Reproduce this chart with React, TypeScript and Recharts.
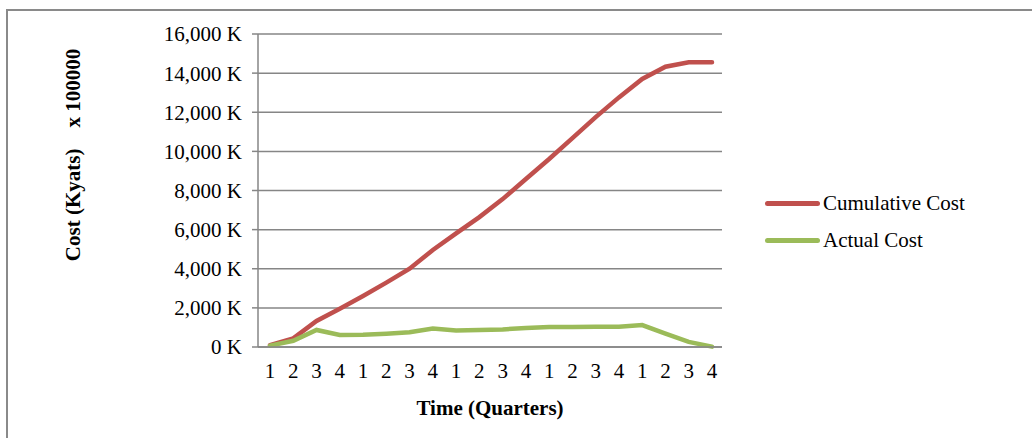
import React from 'react'
import {
  LineChart,
  Line,
  XAxis,
  YAxis,
  CartesianGrid,
  Legend,
} from 'recharts'

// quarter labels, five years of four quarters
const quarters = [
  '1', '2', '3', '4',
  '1', '2', '3', '4',
  '1', '2', '3', '4',
  '1', '2', '3', '4',
  '1', '2', '3', '4',
]

// values in K (x 100000 kyats)
const cumulativeCost = [
  100, 440, 1330, 1960, 2610, 3290, 4000, 4960, 5810, 6640,
  7560, 8590, 9610, 10680, 11750, 12760, 13700, 14330, 14550, 14550,
]

const actualCost = [
  70, 320, 870, 610, 630, 680, 750, 950, 840, 870,
  900, 970, 1020, 1020, 1040, 1040, 1120, 680, 260, 20,
]

const yTicks = [0, 2000, 4000, 6000, 8000, 10000, 12000, 14000, 16000]

const seriesInfo = [
  { key: 'cumulative', name: 'Cumulative Cost', color: '#C0504D' },
  { key: 'actual', name: 'Actual Cost', color: '#9BBB59' },
]

const data = quarters.map((q, i) => ({
  quarter: q,
  cumulative: cumulativeCost[i],
  actual: actualCost[i],
}))

const font = '"Liberation Serif", "Times New Roman", serif'
const gridColor = '#868686'

const formatK = (v: number) => `${v.toLocaleString('en-US')} K`

function LegendBox() {
  return (
    <div style={{ fontFamily: font, fontSize: 21, color: '#000' }}>
      {seriesInfo.map((s) => (
        <div
          key={s.key}
          style={{ display: 'flex', alignItems: 'center', height: 37 }}
        >
          <span
            style={{
              display: 'inline-block',
              width: 55,
              height: 5,
              borderRadius: 3,
              background: s.color,
              marginRight: 3,
            }}
          />
          <span>{s.name}</span>
        </div>
      ))}
    </div>
  )
}

function YTitle() {
  return (
    <text
      transform="translate(80,155) rotate(-90)"
      textAnchor="middle"
      fontFamily={font}
      fontWeight="bold"
      fontSize={21}
      fill="#000"
      style={{ whiteSpace: 'pre' }}
    >
      {'Cost (Kyats)    x 100000'}
    </text>
  )
}

export default function App() {
  return (
    <div
      style={{
        position: 'absolute',
        left: 0,
        top: 0,
        width: 1032,
        height: 438,
        overflow: 'hidden',
        background: '#fff',
      }}
    >
      <div
        style={{
          position: 'absolute',
          left: 6,
          top: 9,
          width: 1100,
          height: 500,
          borderLeft: '2px solid #8a8a8a',
          borderTop: '2px solid #8a8a8a',
        }}
      />
      <LineChart
        width={1032}
        height={438}
        data={data}
        margin={{ top: 34, right: 310, bottom: 0, left: 0 }}
        style={{ position: 'absolute', left: 0, top: 0 }}
      >
        <CartesianGrid
          vertical={false}
          stroke={gridColor}
          strokeWidth={1.5}
        />
        <XAxis
          dataKey="quarter"
          allowDuplicatedCategory
          padding={{ left: 12, right: 10 }}
          tickLine={false}
          axisLine={{ stroke: gridColor, strokeWidth: 1.5 }}
          tick={{ fontFamily: font, fontSize: 21, fill: '#000' }}
          tickMargin={10}
          interval={0}
          height={91}
          label={{
            value: 'Time (Quarters)',
            position: 'insideBottom',
            offset: 23,
            fontFamily: font,
            fontWeight: 'bold',
            fontSize: 21,
            fill: '#000',
          }}
        />
        <YAxis
          width={258}
          domain={[0, 16000]}
          ticks={yTicks}
          interval={0}
          tickFormatter={formatK}
          tickSize={6}
          tickMargin={10}
          tickLine={{ stroke: gridColor, strokeWidth: 1.5 }}
          axisLine={{ stroke: gridColor, strokeWidth: 1.5 }}
          tick={{ fontFamily: font, fontSize: 21, fill: '#000' }}
          label={<YTitle />}
        />
        <Legend
          layout="horizontal"
          verticalAlign="middle"
          content={<LegendBox />}
          wrapperStyle={{ left: 765, top: 185, width: 260 }}
        />
        {seriesInfo.map((s) => (
          <Line
            key={s.key}
            type="linear"
            dataKey={s.key}
            name={s.name}
            stroke={s.color}
            strokeWidth={4.5}
            strokeLinecap="round"
            dot={false}
            activeDot={false}
            isAnimationActive={false}
          />
        ))}
      </LineChart>
    </div>
  )
}
